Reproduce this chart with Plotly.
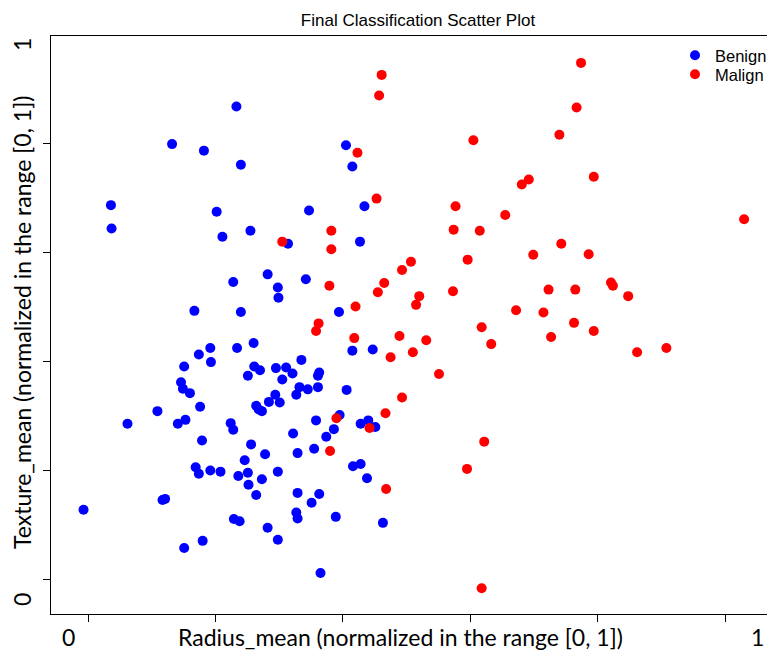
import plotly.graph_objects as go

# ---- data (normalized values) ----
benign_x = [0.233, 0.132, 0.182, 0.240, 0.405, 0.415, 0.434, 0.036, 0.037, 0.202,
            0.347, 0.255, 0.211, 0.314, 0.427, 0.282, 0.228, 0.298, 0.342, 0.299,
            0.167, 0.240, 0.394, 0.415, 0.447, 0.335, 0.260, 0.234, 0.192, 0.174,
            0.193, 0.151, 0.261, 0.270, 0.251, 0.295, 0.311, 0.321, 0.305, 0.363,
            0.361, 0.146, 0.149, 0.160, 0.332, 0.345, 0.327, 0.361, 0.294, 0.284,
            0.301, 0.406, 0.264, 0.268, 0.273, 0.176, 0.109, 0.062, 0.141, 0.153,
            0.224, 0.228, 0.358, 0.395, 0.386, 0.322, 0.374, 0.428, 0.440, 0.451,
            0.179, 0.256, 0.278, 0.329, 0.355, 0.246, 0.169, 0.174, 0.192, 0.208,
            0.236, 0.251, 0.273, 0.298, 0.252, 0.264, 0.416, 0.428, 0.438, 0.329,
            0.363, 0.351, 0.121, 0.117, -0.007, 0.229, 0.238, 0.327, 0.329, 0.389,
            0.463, 0.282, 0.180, 0.151, 0.298, 0.365]
benign_y = [0.867, 0.798, 0.786, 0.760, 0.796, 0.757, 0.684, 0.686, 0.643, 0.674,
            0.676, 0.639, 0.628, 0.615, 0.619, 0.559, 0.545, 0.535, 0.550, 0.516,
            0.492, 0.490, 0.490, 0.419, 0.421, 0.402, 0.433, 0.424, 0.424, 0.412,
            0.398, 0.390, 0.390, 0.383, 0.373, 0.387, 0.388, 0.377, 0.366, 0.379,
            0.373, 0.361, 0.349, 0.341, 0.352, 0.348, 0.338, 0.352, 0.338, 0.325,
            0.324, 0.347, 0.318, 0.311, 0.308, 0.316, 0.308, 0.285, 0.285, 0.292,
            0.286, 0.274, 0.291, 0.301, 0.275, 0.267, 0.261, 0.285, 0.291, 0.279,
            0.254, 0.247, 0.229, 0.231, 0.239, 0.218, 0.205, 0.193, 0.199, 0.197,
            0.189, 0.195, 0.183, 0.197, 0.173, 0.154, 0.207, 0.211, 0.185, 0.158,
            0.156, 0.140, 0.147, 0.145, 0.127, 0.110, 0.106, 0.122, 0.111, 0.114,
            0.103, 0.094, 0.070, 0.057, 0.072, 0.011]

malign_x = [0.461, 0.457, 0.423, 0.453, 0.382, 0.382, 0.305, 0.379, 0.420, 0.455,
            0.465, 0.362, 0.358, 0.774, 0.767, 0.740, 0.605, 0.794, 0.692, 0.681,
            0.577, 0.655, 1.030, 0.574, 0.615, 0.743, 0.786, 0.699, 0.596, 0.507,
            0.493, 0.573, 0.723, 0.765, 0.821, 0.824, 0.848, 0.520, 0.515, 0.672,
            0.715, 0.763, 0.794, 0.618, 0.418, 0.489, 0.531, 0.727, 0.633, 0.475,
            0.510, 0.551, 0.493, 0.467, 0.390, 0.442, 0.380, 0.622, 0.595, 0.468,
            0.618, 0.862, 0.908]
malign_y = [0.925, 0.887, 0.782, 0.698, 0.639, 0.605, 0.619, 0.538, 0.500, 0.526,
            0.543, 0.469, 0.455, 0.947, 0.865, 0.815, 0.805, 0.738, 0.733, 0.724,
            0.684, 0.668, 0.660, 0.641, 0.639, 0.615, 0.596, 0.595, 0.586, 0.582,
            0.567, 0.528, 0.531, 0.531, 0.544, 0.538, 0.519, 0.519, 0.503, 0.493,
            0.489, 0.470, 0.455, 0.462, 0.442, 0.446, 0.438, 0.444, 0.431, 0.407,
            0.416, 0.376, 0.333, 0.304, 0.295, 0.277, 0.235, 0.252, 0.202, 0.165,
            -0.017, 0.416, 0.424]

tick_vals_x = [0, 0.2, 0.4, 0.6, 0.8, 1.0]
tick_vals_y = [0, 0.2, 0.4, 0.6, 0.8, 1.0]

W, H = 767, 651
L, R, T, B = 51, 0, 36, 37
PW, PH = W - L - R, H - T - B


def px(xp):
    return (xp - L) / PW


def py(yp):
    return (H - B - yp) / PH


fig = go.Figure()
fig.add_trace(go.Scatter(x=benign_x, y=benign_y, mode="markers", name="Benign",
                         legend="legend",
                         marker=dict(color="#0000FF", size=10, line=dict(width=0))))
fig.add_trace(go.Scatter(x=malign_x, y=malign_y, mode="markers", name="Malign",
                         legend="legend2",
                         marker=dict(color="#FF0000", size=10, line=dict(width=0))))

axis_font = dict(family="Lato, Noto Sans, sans-serif", size=23, color="black")
leg_font = dict(family="Liberation Sans, Arial, sans-serif", size=16.5, color="black")

fig.update_layout(
    width=W, height=H,
    margin=dict(l=L, r=R, t=T, b=B, pad=0, autoexpand=False),
    paper_bgcolor="white", plot_bgcolor="white",
    title=dict(text="Final Classification Scatter Plot", xref="paper", x=px(418),
               xanchor="center", yref="container", y=1 - 20 / H, yanchor="middle",
               font=dict(family="Liberation Sans, Arial, sans-serif", size=17, color="black")),
    showlegend=True,
    legend=dict(x=px(675), xanchor="left", y=py(38), yanchor="top",
                bgcolor="rgba(0,0,0,0)", borderwidth=0, font=leg_font, itemwidth=30),
    legend2=dict(x=px(675), xanchor="left", y=py(57), yanchor="top",
                 bgcolor="rgba(0,0,0,0)", borderwidth=0, font=leg_font, itemwidth=30),
    xaxis=dict(range=[(51 - 88) / 637, (767 - 88) / 637], tickvals=tick_vals_x,
               showticklabels=False, ticks="outside", ticklen=7, tickcolor="black",
               showline=True, linecolor="black", linewidth=1, mirror=True,
               showgrid=False, zeroline=False),
    yaxis=dict(range=[(579 - 614) / 545, (579 - 36) / 545], tickvals=tick_vals_y,
               showticklabels=False, ticks="outside", ticklen=7, tickcolor="black",
               showline=True, linecolor="black", linewidth=1, mirror=False,
               showgrid=False, zeroline=False),
)

annos = [
    dict(text="0", x=px(68), y=py(637), textangle=0),
    dict(text="1", x=px(757), y=py(637), textangle=0),
    dict(text="Radius_mean (normalized in the range [0, 1])", x=px(400), y=py(637), textangle=0),
    dict(text="1", x=px(22), y=py(45), textangle=-90),
    dict(text="0", x=px(22), y=py(600), textangle=-90),
    dict(text="Texture_mean (normalized in the range [0, 1])", x=px(22), y=py(323), textangle=-90),
]
for a in annos:
    fig.add_annotation(xref="paper", yref="paper", showarrow=False,
                       xanchor="center", yanchor="middle", font=axis_font, **a)

fig.write_html("out.html", config={"displayModeBar": False},
               post_script="document.body.style.margin='0';document.body.style.overflow='hidden';")
